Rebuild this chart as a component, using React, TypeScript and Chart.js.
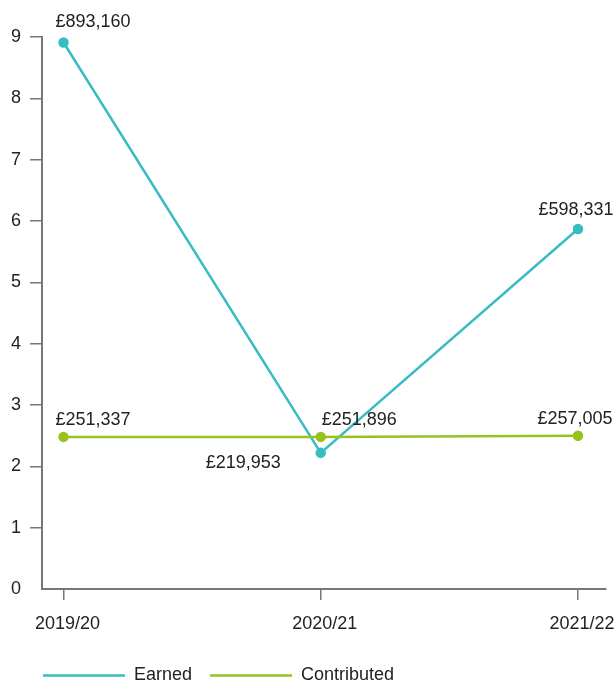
import { useEffect, useRef } from "react";
import { Chart, registerables } from "chart.js";

Chart.register(...registerables);

// ---- data ----
const categories = ["2019/20", "2020/21", "2021/22"];
const earnedValues = [8.91, 2.22, 5.87];
const contributedValues = [2.48, 2.48, 2.5];
const earnedLabels = ["£893,160", "£219,953", "£598,331"];
const contributedLabels = ["£251,337", "£251,896", "£257,005"];
const seriesNames = ["Earned", "Contributed"];

// ---- label placement (style, not data) ----
const labelPlacement = [
  { align: ["left", "right", "center"], dx: [-8, -40, -2], dy: [-20, 10, -19] },
  { align: ["left", "left", "center"], dx: [-8, 1, -3], dy: [-17, -17, -17] },
];

const TEAL = "#38bcc4";
const GREEN = "#99c21f";
const AXIS = "#777777";
const TEXT = "#222222";
const FONT = "'Liberation Sans', Arial, sans-serif";

const valueLabelPlugin = {
  id: "valueLabels",
  afterDatasetsDraw(chart: any) {
    const ctx = chart.ctx;
    ctx.save();
    ctx.font = `18px ${FONT}`;
    ctx.fillStyle = TEXT;
    ctx.textBaseline = "middle";
    const texts = [earnedLabels, contributedLabels];
    chart.data.datasets.forEach((_ds: any, di: number) => {
      const meta = chart.getDatasetMeta(di);
      const place = labelPlacement[di];
      meta.data.forEach((pt: any, i: number) => {
        ctx.textAlign = place.align[i];
        ctx.fillText(texts[di][i], pt.x + place.dx[i], pt.y + place.dy[i]);
      });
    });
    ctx.restore();
  },
};

// shift the bottom legend so it starts under the y axis
const legendShiftPlugin = {
  id: "legendShift",
  afterLayout(chart: any) {
    if (chart.legend) {
      chart.legend.left += 23;
      chart.legend.right += 23;
    }
  },
};

export default function App() {
  const ref = useRef<HTMLCanvasElement | null>(null);

  useEffect(() => {
    if (!ref.current) return;
    Chart.defaults.font.family = FONT;
    const chart = new Chart(ref.current, {
      type: "line",
      data: {
        datasets: [
          {
            label: seriesNames[0],
            data: earnedValues.map((v, i) => ({ x: i, y: v })),
            borderColor: TEAL,
            backgroundColor: TEAL,
            borderWidth: 2.5,
            pointRadius: 4,
            pointBackgroundColor: TEAL,
            pointBorderColor: TEAL,
            pointBorderWidth: 2.5,
            tension: 0,
            order: 1,
          },
          {
            label: seriesNames[1],
            data: contributedValues.map((v, i) => ({ x: i, y: v })),
            borderColor: GREEN,
            backgroundColor: GREEN,
            borderWidth: 2.5,
            pointRadius: 4,
            pointBackgroundColor: GREEN,
            pointBorderColor: GREEN,
            pointBorderWidth: 2.5,
            tension: 0,
            order: 0,
          },
        ],
      },
      options: {
        responsive: false,
        animation: false,
        layout: { padding: { top: 37, left: 2, right: 10, bottom: 0 } },
        plugins: {
          tooltip: { enabled: false },
          legend: {
            position: "bottom",
            align: "start",
            maxHeight: 35.5,
            labels: {
              usePointStyle: true,
              pointStyle: "line",
              pointStyleWidth: 82,
              boxHeight: 3,
              padding: 18,
              color: TEXT,
              font: { size: 18, family: FONT },
              sort: (a: any, b: any) => a.datasetIndex - b.datasetIndex,
            },
          },
        },
        scales: {
          x: {
            type: "linear",
            min: -0.0836,
            max: 2.109,
            afterBuildTicks(axis: any) {
              axis.ticks = categories.map((_c, i) => ({ value: i }));
            },
            afterFit(s: any) {
              s.height = 59.5;
            },
            ticks: {
              callback: (v: any) => categories[v] ?? "",
              padding: 2,
              labelOffset: 4,
              color: TEXT,
              font: { size: 18, family: FONT, lineHeight: 2.42 },
              maxRotation: 0,
              autoSkip: false,
            },
            grid: {
              drawOnChartArea: false,
              drawTicks: true,
              tickLength: 11,
              color: AXIS,
              lineWidth: 1.5,
            },
            border: { color: AXIS, width: 2 },
          },
          y: {
            min: 0,
            max: 9,
            ticks: {
              stepSize: 1,
              padding: 9,
              color: TEXT,
              font: { size: 18, family: FONT },
            },
            grid: {
              drawOnChartArea: false,
              drawTicks: true,
              tickLength: 12,
              color: (c: any) => (c.tick && c.tick.value === 0 ? "rgba(0,0,0,0)" : AXIS),
              lineWidth: 1.5,
            },
            border: { color: AXIS, width: 2 },
          },
        },
      },
      plugins: [valueLabelPlugin, legendShiftPlugin],
    } as any);
    return () => chart.destroy();
  }, []);

  return (
    <div style={{ position: "absolute", left: 0, top: 0, width: 616, height: 684, background: "#fff" }}>
      <canvas ref={ref} width={616} height={684} style={{ display: "block" }} />
    </div>
  );
}
